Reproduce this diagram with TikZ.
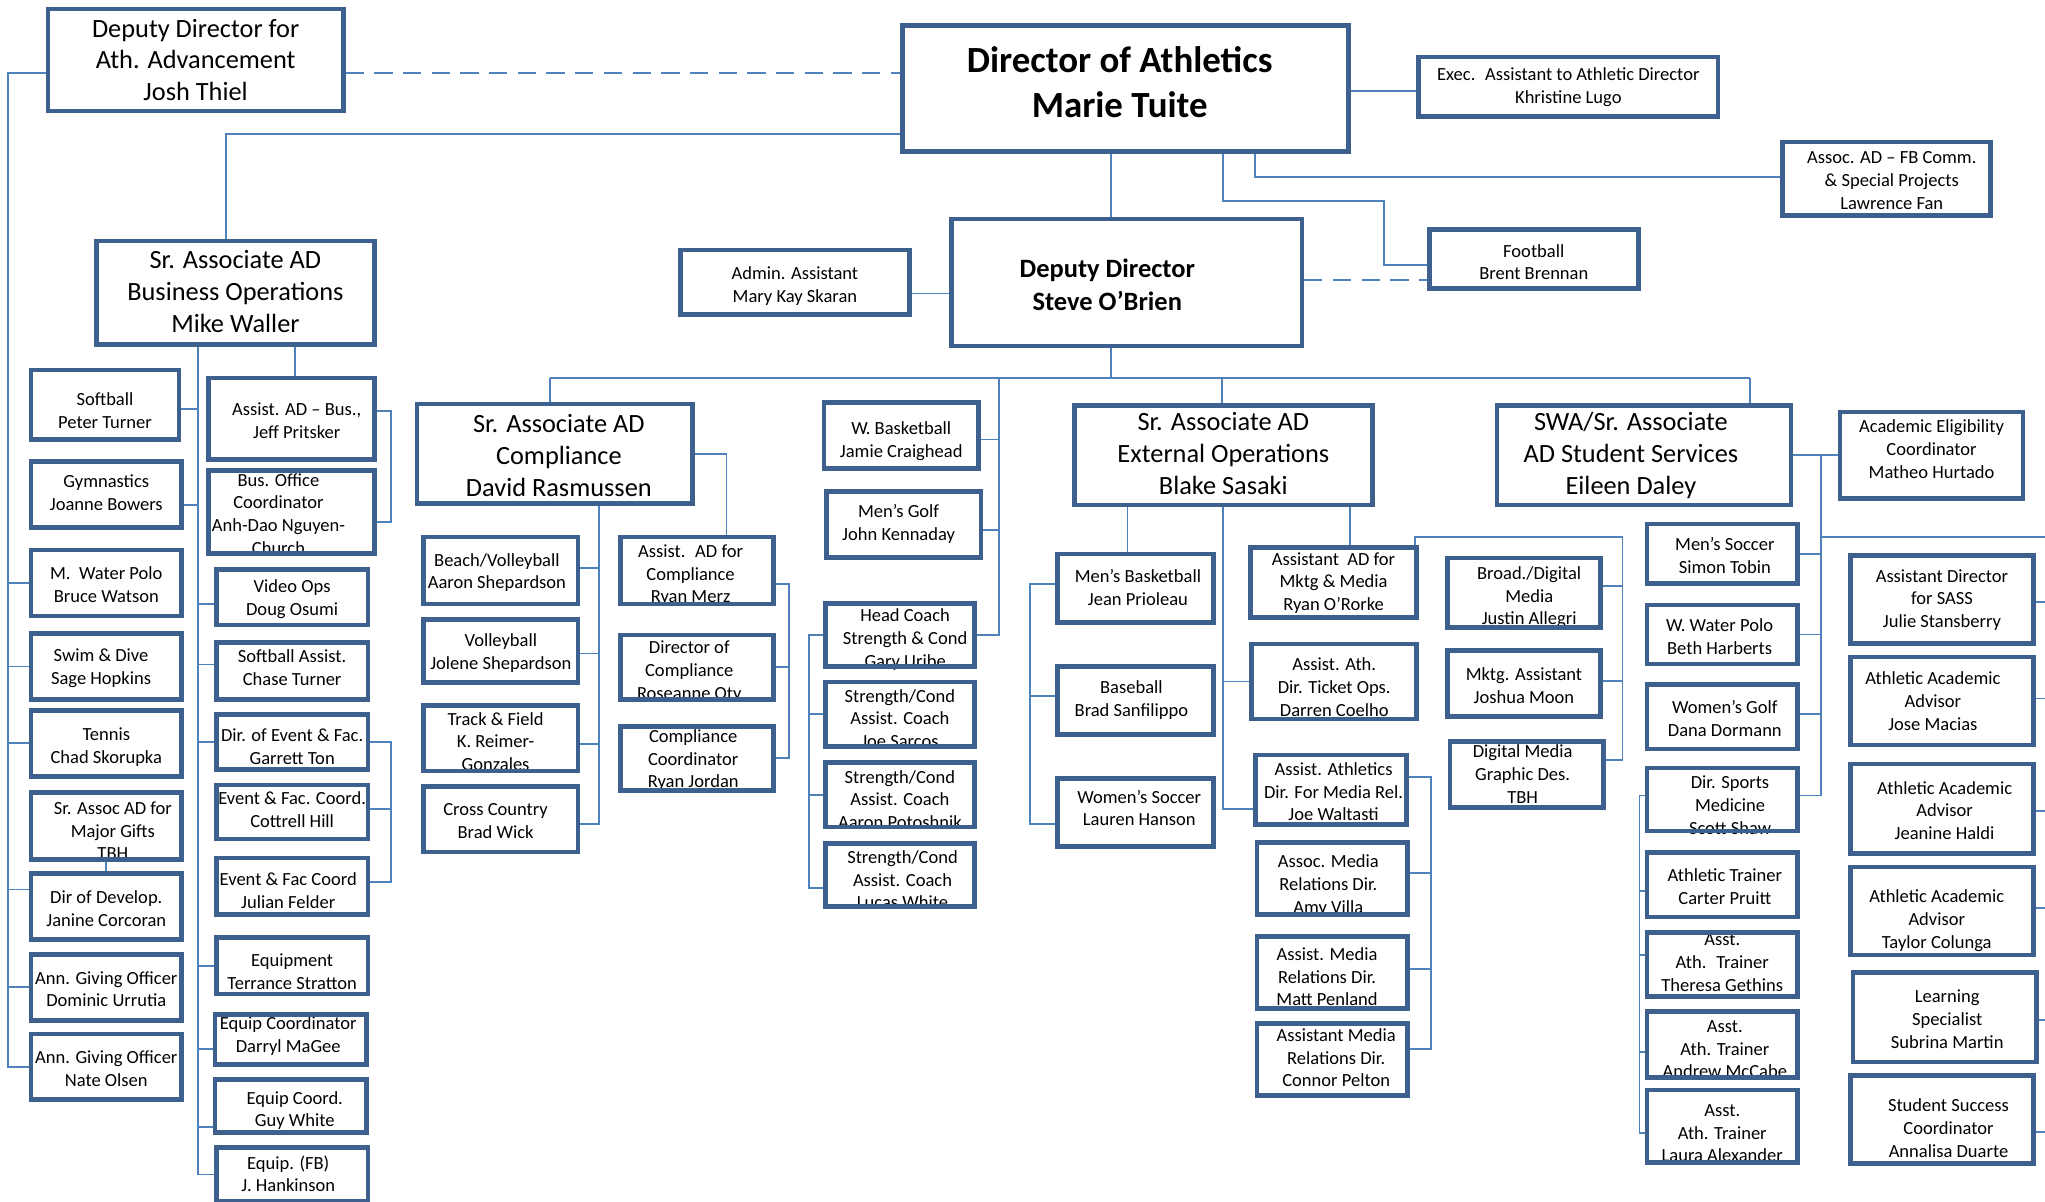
\documentclass[tikz,border=0pt]{standalone}
\usepackage{fontspec}
\setmainfont{Carlito}
\usetikzlibrary{calc}
\definecolor{boxc}{RGB}{62,96,142}
\definecolor{conc}{RGB}{79,129,189}
\newcommand\ob[7]{%
  \node[txt,yshift=-1.5pt,#6] (#1-t) at ({(#2+#4)/2},{(#3+#5)/2}) {#7};
  \node[box, minimum width={(#4-#2-3.6)*1pt}, minimum height={(#5-#3-3.6)*1pt}] (#1) at ({(#2+#4)/2},{(#3+#5)/2}) {};
}
\begin{document}
\begin{tikzpicture}[x=1pt,y=-1pt,
  box/.style={draw=boxc, line width=3.6pt, inner sep=0pt, rectangle},
  sm/.style={font=\fontsize{14.2}{17.4}\selectfont},
  big/.style={font=\fontsize{20.2}{24.5}\selectfont},
  dirf/.style={font=\bfseries\fontsize{28.3}{35}\selectfont},
  depf/.style={font=\bfseries\fontsize{20.3}{25}\selectfont},
  txt/.style={align=center, inner sep=0pt, text=black, sm},
  conn/.style={draw=conc, line width=1.4pt},
  dconn/.style={conn, dash pattern=on 14pt off 8pt}]
\useasboundingbox[fill=white] (0,0) rectangle (1568,921);

% ---------- top level ----------
\ob{dadv}{35}{5}{265}{87}{big, yshift=1.5pt}{Deputy Director for\\Ath. Advancement\\Josh Thiel}
\ob{dir}{690}{18}{1036}{118}{dirf, xshift=-4.5pt, yshift=6.5pt}{Director of Athletics\\Marie Tuite}
\ob{exec}{1086}{42}{1319}{91}{yshift=1pt}{Exec.~ Assistant to Athletic Director\\Khristine Lugo}
\ob{fbc}{1365}{107}{1528}{167}{xshift=4pt}{Assoc. AD – FB Comm.\\\& Special Projects\\Lawrence Fan}
\ob{fb}{1094}{174}{1258}{223}{yshift=-1pt}{Football\\Brent Brennan}
\ob{dep}{728}{166}{1000}{267}{depf, xshift=-15pt, yshift=-0.5pt}{Deputy Director\\Steve O’Brien}
\ob{adm}{520}{190}{699}{243}{yshift=-1.5pt}{Admin. Assistant\\Mary Kay Skaran}
\ob{bus}{72}{183}{289}{266}{big, yshift=2.8pt}{Sr. Associate AD\\Business Operations\\Mike Waller}

% ---------- business: left column ----------
\ob{sb}{22}{282}{139}{339}{yshift=-3pt}{Softball\\Peter Turner}
\ob{gym}{22}{352}{141}{406}{yshift=3pt}{Gymnastics\\Joanne Bowers}
\ob{mwp}{22}{420}{141}{474}{}{M.~ Water Polo\\Bruce Watson}
\ob{swim}{22}{484}{141}{538}{xshift=-4pt}{Swim \& Dive\\Sage Hopkins}
\ob{ten}{22}{543}{141}{597}{yshift=-1.5pt}{Tennis\\Chad Skorupka}
\ob{mg}{22}{606}{141}{661}{xshift=5pt, yshift=-2pt}{Sr. Assoc AD for\\Major Gifts\\TBH}
\ob{dod}{22}{668}{141}{722}{}{Dir of Develop.\\Janine Corcoran}
\ob{agd}{22}{730}{141}{784}{}{Ann. Giving Officer\\Dominic Urrutia}
\ob{agn}{22}{791}{141}{845}{}{Ann. Giving Officer\\Nate Olsen}

% ---------- business: second column ----------
\ob{apb}{158}{288}{289}{354}{xshift=4pt}{Assist. AD – Bus.,\\Jeff Pritsker}
\ob{bof}{158}{359}{289}{426}{xshift=-10pt}{Bus. Office\\Coordinator\\Anh-Dao Nguyen-\\Church}
\ob{vid}{164}{435}{284}{481}{}{Video Ops\\Doug Osumi}
\ob{sba}{164}{491}{284}{538}{yshift=4pt}{Softball Assist.\\Chase Turner}
\ob{def}{164}{546}{284}{592}{yshift=-2pt}{Dir. of Event \& Fac.\\Garrett Ton}
\ob{efc}{164}{600}{284}{645}{yshift=3pt}{Event \& Fac. Coord.\\Cottrell Hill}
\ob{efj}{164}{656}{284}{703}{xshift=-3pt, yshift=-2pt}{Event \& Fac Coord\\Julian Felder}
\ob{eqt}{164}{717}{284}{764}{yshift=-3pt}{Equipment\\Terrance Stratton}
\ob{eqd}{163}{776}{283}{818}{xshift=-2pt, yshift=4pt}{Equip Coordinator\\Darryl MaGee}
\ob{eqg}{163}{826}{283}{870}{xshift=3pt, yshift=-2pt}{Equip Coord.\\Guy White}
\ob{eqh}{164}{878}{284}{923}{xshift=-3pt, yshift=2pt}{Equip. (FB)\\J. Hankinson}

% ---------- compliance ----------
\ob{comp}{318}{308}{533}{388}{big, xshift=3pt, yshift=0.5pt}{Sr. Associate AD\\Compliance\\David Rasmussen}
\ob{bv}{323}{410}{445}{465}{xshift=-3pt}{Beach/Volleyball\\Aaron Shepardson}
\ob{vb}{323}{473}{445}{525}{}{Volleyball\\Jolene Shepardson}
\ob{tf}{323}{539}{445}{593}{xshift=-4pt, yshift=-1pt}{Track \& Field\\K. Reimer-\\Gonzales}
\ob{cc}{323}{601}{445}{655}{xshift=-4pt}{Cross Country\\Brad Wick}
\ob{acm}{474}{410}{595}{465}{xshift=-5pt, yshift=-2pt}{Assist.~ AD for\\Compliance\\Ryan Merz}
\ob{doc}{474}{485}{595}{538}{xshift=-6pt, yshift=-2pt}{Director of\\Compliance\\Roseanne Oty}
\ob{ccr}{474}{555}{595}{608}{xshift=-3pt}{Compliance\\Coordinator\\Ryan Jordan}

% ---------- middle column ----------
\ob{wbb}{630}{307}{752}{361}{yshift=-3pt}{W. Basketball\\Jamie Craighead}
\ob{mgolf}{632}{375}{754}{429}{xshift=-4pt, yshift=2pt}{Men’s Golf\\John Kennaday}
\ob{hcs}{631}{461}{749}{513}{xshift=4pt, yshift=-2pt}{Head Coach\\Strength \& Cond\\Gary Uribe}
\ob{sc1}{631}{521}{749}{574}{yshift=-2pt}{Strength/Cond\\Assist. Coach\\Joe Sarcos}
\ob{sc2}{631}{583}{749}{636}{yshift=-2pt}{Strength/Cond\\Assist. Coach\\Aaron Potoshnik}
\ob{sc3}{631}{645}{749}{697}{xshift=2pt, yshift=-2pt}{Strength/Cond\\Assist. Coach\\Lucas White}

% ---------- external operations ----------
\ob{ext}{822}{309}{1054}{389}{big, yshift=2.5pt}{Sr. Associate AD\\External Operations\\Blake Sasaki}
\ob{mbb}{809}{423}{932}{479}{xshift=2pt, yshift=2pt}{Men’s Basketball\\Jean Prioleau}
\ob{bsb}{809}{509}{932}{565}{xshift=-3pt, yshift=2pt}{Baseball\\Brad Sanfilippo}
\ob{wsc}{809}{595}{932}{651}{xshift=3pt, yshift=5pt}{Women’s Soccer\\Lauren Hanson}
\ob{mkm}{957}{418}{1088}{475}{yshift=1pt}{Assistant~ AD for\\Mktg \& Media\\Ryan O’Rorke}
\ob{tix}{958}{492}{1088}{553}{yshift=-3pt}{Assist. Ath.\\Dir. Ticket Ops.\\Darren Coelho}
\ob{mrl}{961}{577}{1080}{634}{xshift=2pt}{Assist. Athletics\\Dir. For Media Rel.\\Joe Waltasti}
\ob{amv}{962}{644}{1081}{703}{xshift=-3pt, yshift=-4pt}{Assoc. Media\\Relations Dir.\\Amy Villa}
\ob{amp}{962}{716}{1081}{775}{xshift=-4pt, yshift=-2pt}{Assist. Media\\Relations Dir.\\Matt Penland}
\ob{acp}{962}{783}{1081}{842}{xshift=3pt, yshift=3pt}{Assistant Media\\Relations Dir.\\Connor Pelton}
\ob{bdm}{1108}{426}{1229}{483}{xshift=4pt, yshift=-2pt}{Broad./Digital\\Media\\Justin Allegri}
\ob{mka}{1108}{497}{1229}{551}{}{Mktg. Assistant\\Joshua Moon}
\ob{dmg}{1110}{567}{1231}{621}{xshift=-3pt, yshift=2pt}{Digital Media\\Graphic Des.\\TBH}

% ---------- student services ----------
\ob{swa}{1146}{309}{1375}{389}{big, xshift=-10pt, yshift=1.5pt}{SWA/Sr. Associate\\AD Student Services\\Eileen Daley}
\ob{aec}{1409}{314}{1553}{384}{yshift=6pt}{Academic Eligibility\\Coordinator\\Matheo Hurtado}
\ob{msc}{1261}{400}{1380}{449}{xshift=2pt}{Men’s Soccer\\Simon Tobin}
\ob{wwp}{1261}{462}{1380}{511}{xshift=-2pt}{W. Water Polo\\Beth Harberts}
\ob{wgolf}{1261}{523}{1380}{576}{xshift=2pt}{Women’s Golf\\Dana Dormann}
\ob{dsm}{1261}{587}{1380}{639}{xshift=6pt, yshift=-3pt}{Dir. Sports\\Medicine\\Scott Shaw}
\ob{atc}{1261}{652}{1380}{705}{xshift=2pt}{Athletic Trainer\\Carter Pruitt}
\ob{atg}{1261}{713}{1380}{766}{yshift=3pt}{Asst.\\Ath.~ Trainer\\Theresa Gethins}
\ob{atm}{1261}{774}{1380}{828}{xshift=2pt, yshift=-2pt}{Asst.\\Ath. Trainer\\Andrew McCabe}
\ob{ata}{1261}{834}{1380}{893}{yshift=-4pt}{Asst.\\Ath. Trainer\\Laura Alexander}
\ob{ads}{1417}{424}{1561}{495}{yshift=1pt}{Assistant Director\\for SASS\\Julie Stansberry}
\ob{aa1}{1417}{502}{1561}{573}{xshift=-7pt, yshift=1.5pt}{Athletic Academic\\Advisor\\Jose Macias}
\ob{aa2}{1417}{584}{1561}{656}{xshift=2pt}{Athletic Academic\\Advisor\\Jeanine Haldi}
\ob{aa3}{1417}{663}{1561}{734}{xshift=-4pt, yshift=-6pt}{Athletic Academic\\Advisor\\Taylor Colunga}
\ob{lsp}{1419}{744}{1563}{816}{xshift=2pt}{Learning\\Specialist\\Subrina Martin}
\ob{ssc}{1417}{823}{1561}{894}{xshift=5pt, yshift=-5pt}{Student Success\\Coordinator\\Annalisa Duarte}

% ---------- route coordinates ----------
\coordinate (Lx) at (6,0);
\coordinate (Bx) at (152,0);
\coordinate (BRx) at (300,0);
\coordinate (Ay) at (0,56);
\coordinate (By) at (0,102.5);
\coordinate (Ey) at (0,70);
\coordinate (Dx) at (852,0);
\coordinate (Fx1) at (938,0);
\coordinate (FB1) at (1061,154);
\coordinate (Fy2) at (0,203);
\coordinate (Gx) at (962,0);
\coordinate (Gy) at (0,136);
\coordinate (Hy) at (0,215);
\coordinate (Iy) at (0,225);
\coordinate (Ty) at (0,290);
\coordinate (T1x) at (422,0);
\coordinate (T2x) at (766,0);
\coordinate (T3x) at (937,0);
\coordinate (T4x) at (1342,0);
\coordinate (Cmx) at (459,0);
\coordinate (Crx) at (557,0);
\coordinate (Cbx) at (605,0);
\coordinate (Sx) at (620,0);
\coordinate (E2x) at (938,0);
\coordinate (Mky) at (0,412);
\coordinate (Mbx) at (1244,0);
\coordinate (Mrx) at (1097,0);
\coordinate (Wbx) at (790,0);
\coordinate (Swx) at (1396,0);
\coordinate (Swy) at (0,412);
\coordinate (Redge) at (1568,0);
\coordinate (Trx) at (1257,0);

% ---------- top connectors ----------
\draw[dconn] (dadv.east |- Ay) -- (dir.west |- Ay);
\draw[conn] (dadv.west |- Ay) -| (Lx |- agn.west) -- (agn.west);
\coordinate (dodL) at ([yshift=13pt]dod.west);
\foreach \n in {mwp,swim,ten,agd} \draw[conn] (Lx |- \n.west) -- (\n.west);
\draw[conn] (Lx |- dodL) -- (dodL);
\draw[conn] (mg.south) -- (mg.south |- dod.north);
\coordinate (busN) at ([xshift=-7pt]bus.north);
\draw[conn] (dir.west |- By) -| (busN);
\draw[conn] (dir.east |- Ey) -- (exec.west |- Ey);
\draw[conn] (Dx |- dir.south) -- (Dx |- dep.north);
\draw[conn] (Fx1 |- dir.south) |- (FB1) |- (fb.west |- Fy2);
\draw[conn] (Gx |- dir.south) |- (fbc.west |- Gy);
\draw[dconn] (dep.east |- Hy) -- (fb.west |- Hy);
\draw[conn] (adm.east |- Iy) -- (dep.west |- Iy);

% ---------- business connectors ----------
\draw[conn] (Bx |- bus.south) -- (Bx |- eqh.west) -- (eqh.west);
\coordinate (sbR) at ([yshift=-3pt]sb.east);
\coordinate (gymR) at ([yshift=-8pt]gym.east);
\coordinate (vidL) at ([yshift=-5pt]vid.west);
\coordinate (sbaL) at ([yshift=5pt]sba.west);
\coordinate (eqdL) at ([yshift=-7pt]eqd.west);
\coordinate (eqgL) at ([yshift=-16pt]eqg.west);
\foreach \n in {sbR,gymR,vidL,sbaL,def.west,eqt.west,eqdL,eqgL} \draw[conn] (Bx |- \n) -- (\n);
\coordinate (apbN) at ([xshift=2.5pt]apb.north);
\draw[conn] (apbN |- bus.south) -- (apbN);
\coordinate (apbR) at ([yshift=6pt]apb.east);
\coordinate (bofR) at ([yshift=-7.5pt]bof.east);
\draw[conn] (apbR) -| (BRx |- bofR) -- (bofR);
\coordinate (efcR) at ([yshift=2pt]efc.east);
\coordinate (efjR) at ([yshift=3pt]efj.east);
\draw[conn] (def.east) -| (BRx |- efjR) -- (efjR);
\draw[conn] (BRx |- efcR) -- (efcR);

% ---------- deputy director bus ----------
\draw[conn] (Dx |- dep.south) -- (Dx |- Ty);
\draw[conn] (T1x |- Ty) -- (T4x |- Ty);
\draw[conn] (T1x |- Ty) -- (T1x |- comp.north);
\draw[conn] (T3x |- Ty) -- (T3x |- ext.north);
\draw[conn] (T4x |- Ty) -- (T4x |- swa.north);
\draw[conn] (T2x |- Ty) -- (T2x |- hcs.east) -- (hcs.east);
\coordinate (wbbR) at ([yshift=-3pt]wbb.east);
\coordinate (mgolfR) at ([yshift=-4.5pt]mgolf.east);
\draw[conn] (T2x |- wbbR) -- (wbbR);
\draw[conn] (T2x |- mgolfR) -- (mgolfR);

% ---------- compliance connectors ----------
\draw[conn] (comp.east) -| (Crx |- acm.north);
\coordinate (bvR) at ([yshift=2pt]bv.east);
\coordinate (vbR) at ([yshift=-2pt]vb.east);
\coordinate (tfR) at ([yshift=-4.5pt]tf.east);
\coordinate (ccR) at ([yshift=-4pt]cc.east);
\draw[conn] (Cmx |- comp.south) -- (Cmx |- ccR) -- (ccR);
\foreach \n in {bvR,vbR,tfR} \draw[conn] (Cmx |- \n) -- (\n);
\coordinate (acmR) at ([yshift=-10.5pt]acm.east);
\draw[conn] (acmR) -| (Cbx |- ccr.east) -- (ccr.east);
\draw[conn] (Cbx |- doc.east) -- (doc.east);

% ---------- strength bracket ----------
\coordinate (sc3L) at ([yshift=-10pt]sc3.west);
\draw[conn] (hcs.west) -| (Sx |- sc3L) -- (sc3L);
\draw[conn] (Sx |- sc1.west) -- (sc1.west);
\draw[conn] (Sx |- sc2.west) -- (sc2.west);

% ---------- external connectors ----------
\coordinate (mbbN) at ([xshift=-6pt]mbb.north);
\draw[conn] (mbbN |- ext.south) -- (mbbN);
\coordinate (mrlL) at ([yshift=-14.5pt]mrl.west);
\draw[conn] (E2x |- ext.south) -- (E2x |- mrlL) -- (mrlL);
\draw[conn] (E2x |- tix.west) -- (tix.west);
\coordinate (mkmN) at ([xshift=12.5pt]mkm.north);
\draw[conn] (mkmN |- ext.south) -- (mkmN);
\coordinate (mkTR) at ([xshift=-3pt]mkm.north east);
\coordinate (dmgR) at ([yshift=11pt]dmg.east);
\coordinate (bdmR) at ([yshift=5.5pt]bdm.east);
\coordinate (mkaR) at ([yshift=2pt]mka.east);
\draw[conn] (mkTR) |- (Mbx |- Mky) -- (Mbx |- dmgR) -- (dmgR);
\draw[conn] (Mbx |- bdmR) -- (bdmR);
\draw[conn] (Mbx |- mkaR) -- (mkaR);
\coordinate (mrlR) at ([yshift=9.5pt]mrl.east);
\coordinate (amvR) at ([yshift=4pt]amv.east);
\coordinate (ampR) at ([yshift=2.5pt]amp.east);
\coordinate (acpR) at ([yshift=8.5pt]acp.east);
\draw[conn] (mrlR) -| (Mrx |- acpR) -- (acpR);
\draw[conn] (Mrx |- amvR) -- (amvR);
\draw[conn] (Mrx |- ampR) -- (ampR);
\coordinate (mbbL) at ([yshift=3pt]mbb.west);
\coordinate (bsbL) at ([yshift=3.5pt]bsb.west);
\coordinate (wscL) at ([yshift=-9pt]wsc.west);
\draw[conn] (mbbL) -| (Wbx |- wscL) -- (wscL);
\draw[conn] (Wbx |- bsbL) -- (bsbL);

% ---------- student services connectors ----------
\draw[conn] (swa.east) -- (aec.west |- swa.east);
\coordinate (dsmR) at ([yshift=3pt]dsm.east);
\draw[conn] (Swx |- swa.east) -- (Swx |- dsmR) -- (dsmR);
\coordinate (wgolfR) at ([yshift=2pt]wgolf.east);
\foreach \n in {msc.east,wwp.east,wgolfR} \draw[conn] (Swx |- \n) -- (\n);
\draw[conn] (Swx |- Swy) -- (Redge |- Swy);
\coordinate (dsmL) at ([yshift=3pt]dsm.west);
\coordinate (atcL) at ([yshift=-4.5pt]atc.west);
\coordinate (atgL) at ([yshift=7pt]atg.west);
\coordinate (atmL) at ([yshift=-5.5pt]atm.west);
\coordinate (ataL) at ([yshift=-5pt]ata.west);
\draw[conn] (dsmL) -| (Trx |- ataL) -- (ataL);
\foreach \n in {atcL,atgL,atmL} \draw[conn] (Trx |- \n) -- (\n);
\coordinate (adsR) at ([yshift=-2pt]ads.east);
\coordinate (aa1R) at ([yshift=2pt]aa1.east);
\coordinate (aa2R) at ([yshift=-2pt]aa2.east);
\coordinate (aa3R) at ([yshift=2.5pt]aa3.east);
\coordinate (lspR) at ([yshift=-2pt]lsp.east);
\coordinate (sscR) at ([yshift=-9.5pt]ssc.east);
\foreach \n in {adsR,aa1R,aa2R,aa3R,lspR,sscR} \draw[conn] (\n) -- (Redge |- \n);
\end{tikzpicture}
\end{document}
